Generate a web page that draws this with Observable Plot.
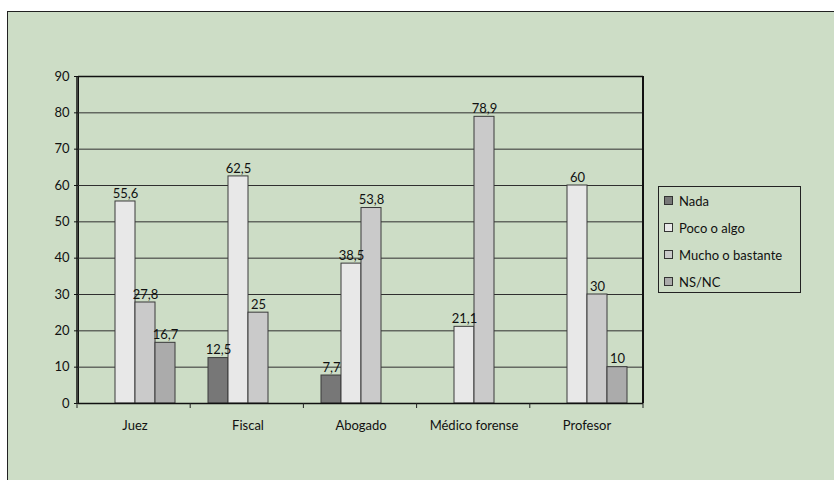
<!DOCTYPE html>
<html>
<head>
<meta charset="utf-8">
<script src="https://cdn.jsdelivr.net/npm/d3@7"></script>
<script src="https://cdn.jsdelivr.net/npm/@observablehq/plot@0.6"></script>
<style>
  html, body { margin: 0; padding: 0; background: #ffffff; }
  #wrap { position: relative; width: 834px; height: 480px; overflow: hidden; font-family: Lato, "DejaVu Sans", sans-serif; }
  #panel { position: absolute; left: 7px; top: 11px; width: 840px; height: 480px; background: #cdddc6; border-top: 1.5px solid #222; border-left: 1.5px solid #222; box-sizing: border-box; }
  #chart { position: absolute; left: 0; top: 0; }
  #legend { position: absolute; left: 658px; top: 186px; width: 143px; height: 107px; border: 1px solid #222; box-sizing: border-box; padding: 0 0 0 5px; }
  .item { font-size: 13px; color: #111; display: flex; align-items: center; height: 27px; }
  .sw { width: 7px; height: 7px; border: 1px solid #333; margin-right: 6px; flex: none; }
</style>
</head>
<body>
<div id="wrap">
  <div id="panel"></div>
  <div id="chart"></div>
  <div id="legend"></div>
</div>
<script>
// ---- data ----
const categories = ["Juez", "Fiscal", "Abogado", "Médico forense", "Profesor"];
const series = ["Nada", "Poco o algo", "Mucho o bastante", "NS/NC"];
const nada   = [null, 12.5, 7.7, null, null];
const poco   = [55.6, 62.5, 38.5, 21.1, 60];
const mucho  = [27.8, 25, 53.8, 78.9, 30];
const nsnc   = [16.7, null, null, null, 10];
const yTicks = [0, 10, 20, 30, 40, 50, 60, 70, 80, 90];
const colors = ["#777777", "#e8e8e8", "#cacaca", "#ababab"];

const seriesValues = [nada, poco, mucho, nsnc];
const rows = [];
categories.forEach((c, i) => {
  series.forEach((s, j) => {
    const v = seriesValues[j][i];
    if (v != null) rows.push({cat: c, series: s, value: v});
  });
});
const fmt = v => String(v).replace(".", ",");

const chart = Plot.plot({
  width: 834,
  height: 480,
  marginLeft: 77,
  marginRight: 191,
  marginTop: 76,
  marginBottom: 77,
  style: {background: "transparent", fontFamily: "Lato, 'DejaVu Sans', sans-serif", fontSize: "13px", color: "#111", overflow: "visible"},
  facet: {data: rows, x: "cat"},
  fx: {domain: categories, paddingInner: 0, paddingOuter: 0, label: null, axis: "bottom", tickSize: 0, tickPadding: 17},
  x: {domain: series, paddingInner: 0, paddingOuter: 0.73, axis: null},
  y: {domain: [0, 90], ticks: yTicks, tickSize: 4, tickPadding: 5, label: null, line: true},
  color: {domain: series, range: colors},
  marks: [
    Plot.ruleY(yTicks.filter(t => t > 0 && t < 90), {stroke: "#2f2f2f", strokeWidth: 1}),
    Plot.ruleY([90], {stroke: "#111", strokeWidth: 1.5}),
    Plot.barY(rows, {x: "series", y: "value", fill: "series", stroke: "#3a3a3a", strokeWidth: 1}),
    Plot.ruleY([0], {stroke: "#111", strokeWidth: 1.5}),
    Plot.text(rows, {x: "series", y: "value", text: d => fmt(d.value), dy: -8, fontSize: 13, fill: "#111"})
  ]
});
document.getElementById("chart").appendChild(chart);

// axis lines / boundary ticks from the scales
const fxS = chart.scale("fx");
const yS = chart.scale("y");
const [x0, x1] = fxS.range;
const [yb, yt] = yS.range;
const step = (x1 - x0) / categories.length;
const svg = d3.select(chart);
const g = svg.append("g");
g.append("line").attr("x1", x0).attr("x2", x0).attr("y1", yt).attr("y2", yb).attr("stroke", "#111").attr("stroke-width", 1.5);
g.append("line").attr("x1", x1).attr("x2", x1).attr("y1", yt).attr("y2", yb).attr("stroke", "#111").attr("stroke-width", 2);
for (let i = 0; i <= categories.length; i++) {
  const x = x0 + i * step;
  g.append("line").attr("x1", x).attr("x2", x).attr("y1", yb).attr("y2", yb + 5).attr("stroke", "#222").attr("stroke-width", 1);
}

// legend
const leg = d3.select("#legend");
series.forEach((s, i) => {
  const it = leg.append("div").attr("class", "item");
  it.append("div").attr("class", "sw").style("background", colors[i]);
  it.append("span").text(s);
});
</script>
</body>
</html>
